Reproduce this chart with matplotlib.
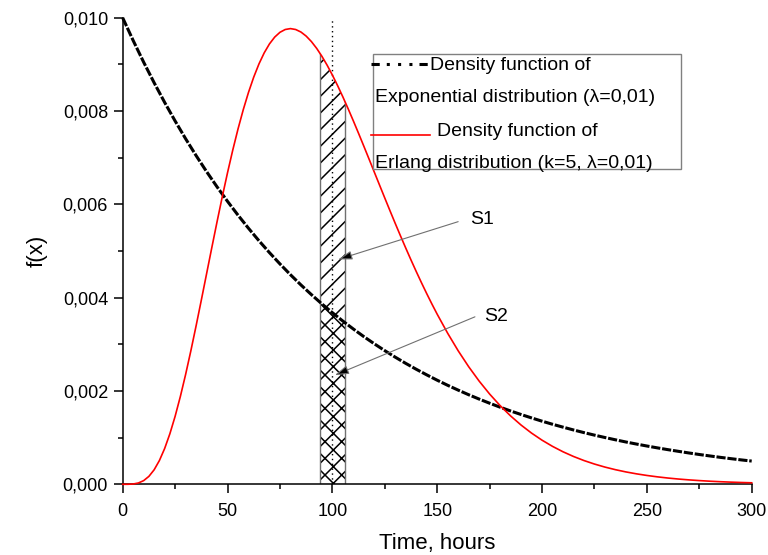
import matplotlib
matplotlib.use("Agg")
import matplotlib.pyplot as plt
from matplotlib.patches import Rectangle
from matplotlib.lines import Line2D
import numpy as np

plt.rcParams['font.family'] = ['Liberation Sans', 'DejaVu Sans']

# ---------------- data ----------------
exp_hours = list(range(0, 301, 5))
exp_density = [
    0.010000, 0.009512, 0.009048, 0.008607, 0.008187, 0.007788, 0.007408, 0.007047,
    0.006703, 0.006376, 0.006065, 0.005769, 0.005488, 0.005220, 0.004966, 0.004724,
    0.004493, 0.004274, 0.004066, 0.003867, 0.003679, 0.003499, 0.003329, 0.003166,
    0.003012, 0.002865, 0.002725, 0.002592, 0.002466, 0.002346, 0.002231, 0.002122,
    0.002019, 0.001920, 0.001827, 0.001738, 0.001653, 0.001572, 0.001496, 0.001423,
    0.001353, 0.001287, 0.001225, 0.001165, 0.001108, 0.001054, 0.001003, 0.000954,
    0.000907, 0.000863, 0.000821, 0.000781, 0.000743, 0.000707, 0.000672, 0.000639,
    0.000608, 0.000578, 0.000550, 0.000523, 0.000498]

erlang_hours = [
    0, 2.5, 5, 7.5, 10, 12.5, 15, 17.5, 20, 22.5, 25, 27.5, 30, 32.5, 35, 37.5,
    40, 42.5, 45, 47.5, 50, 52.5, 55, 57.5, 60, 62.5, 65, 67.5, 70, 72.5, 75, 77.5,
    80, 82.5, 85, 87.5, 90, 92.5, 95, 97.5, 100, 102.5, 105, 107.5, 110, 112.5, 115,
    117.5, 120, 122.5, 125, 127.5, 130, 132.5, 135, 137.5, 140, 142.5, 145, 147.5,
    150, 155, 160, 165, 170, 175, 180, 185, 190, 195, 200, 205, 210, 215, 220, 225,
    230, 235, 240, 245, 250, 255, 260, 265, 270, 275, 280, 285, 290, 295, 300]
erlang_density = [
    0.0000000, 0.0000005, 0.0000063, 0.0000283, 0.0000790, 0.0001702, 0.0003114, 0.0005091,
    0.0007664, 0.0010834, 0.0014572, 0.0018828, 0.0023533, 0.0028605, 0.0033954, 0.0039488,
    0.0045112, 0.0050736, 0.0056276, 0.0061654, 0.0066801, 0.0071656, 0.0076170, 0.0080300,
    0.0084016, 0.0087295, 0.0090122, 0.0092493, 0.0094405, 0.0095867, 0.0096891, 0.0097491,
    0.0097685, 0.0097490, 0.0096952, 0.0096079, 0.0094904, 0.0093452, 0.0091756, 0.0089840,
    0.0087733, 0.0085462, 0.0083052, 0.0080526, 0.0077910, 0.0075223, 0.0072484, 0.0069713,
    0.0066928, 0.0064143, 0.0061369, 0.0058620, 0.0055910, 0.0053245, 0.0050640, 0.0048093,
    0.0045613, 0.0043207, 0.0040876, 0.0038626,
    0.0036458, 0.0032373, 0.0028626, 0.0025214, 0.0022128, 0.0019351, 0.0016869, 0.0014659,
    0.0012702, 0.0010975, 0.0009458, 0.0008131, 0.0006973, 0.0005967, 0.0005094, 0.0004341,
    0.0003691, 0.0003133, 0.0002654, 0.0002245, 0.0001896, 0.0001598, 0.0001344, 0.0001130,
    0.0000949, 0.0000795, 0.0000665, 0.0000556, 0.0000464, 0.0000387, 0.0000323]

x_ticks = [0, 50, 100, 150, 200, 250, 300]
x_tick_labels = ['0', '50', '100', '150', '200', '250', '300']
y_ticks = [0.000, 0.002, 0.004, 0.006, 0.008, 0.010]
y_tick_labels = ['0,000', '0,002', '0,004', '0,006', '0,008', '0,010']

marker_x = 100
band_left, band_right = 94, 106

s_labels = ['S1', 'S2']
s_text_pos = [(165.5, 0.00567), (172.5, 0.00359)]
s_tail_pos = [(160.0, 0.00563), (168.0, 0.00359)]
s_head_pos = [(102.8, 0.00482), (101.2, 0.00234)]

legend_lines = ['Density function of', 'Exponential distribution (\u03bb=0,01)',
                'Density function of', 'Erlang distribution (k=5, \u03bb=0,01)']

# ---------------- figure ----------------
W, H = 768, 555
fig = plt.figure(figsize=(W / 100, H / 100), dpi=100)
ax = fig.add_axes([122.7 / W, 1 - 484.3 / H, (751.7 - 122.7) / W, (484.3 - 17.8) / H])

xe = np.array(exp_hours, dtype=float)
ye = np.array(exp_density)
xr = np.array(erlang_hours, dtype=float)
yr = np.array(erlang_density)

band_clip = Rectangle((band_left, 0), band_right - band_left, 0.0105,
                      transform=ax.transData)

plt.rcParams['hatch.linewidth'] = 1.1
upper = ax.fill_between(xr, 0, yr, facecolor='none', edgecolor='black',
                        linewidth=0, hatch='//', zorder=1)
upper.set_clip_path(band_clip)
lower = ax.fill_between(xe, 0, ye, facecolor='white', edgecolor='black',
                        linewidth=0, hatch='xx', zorder=1.5)
lower.set_clip_path(band_clip)

under = ax.fill_between(xr, 0, yr, facecolor='none', edgecolor='none', linewidth=0)
outline = Rectangle((band_left, 0), band_right - band_left, 0.0105, fill=False,
                    edgecolor='#707070', linewidth=1.0, zorder=2)
ax.add_patch(outline)
outline.set_clip_path(under.get_paths()[0], ax.transData)

ax.axvline(marker_x, color='black', linestyle=(0, (1, 2.5)), linewidth=1.0, zorder=2)

ax.plot(xr, yr, color='red', linewidth=1.2, zorder=4, clip_on=False)
ax.plot(xe, ye, color='black', linewidth=2.2, linestyle=(0, (3, 0.6)), zorder=3,
        clip_on=False)

for lab, tp, tl, hd in zip(s_labels, s_text_pos, s_tail_pos, s_head_pos):
    ax.text(tp[0], tp[1], lab, fontsize=14, ha='left', va='center')
    ax.annotate('', xy=hd, xytext=tl,
                arrowprops=dict(arrowstyle='-|>,head_length=0.7,head_width=0.22',
                                edgecolor='#707070', facecolor='black', lw=0.8,
                                shrinkA=0, shrinkB=0, mutation_scale=12), zorder=5)

ax.set_xlim(0, 300)
ax.set_ylim(0, 0.010)
ax.set_xticks(x_ticks)
ax.set_xticklabels(x_tick_labels)
ax.set_yticks(y_ticks)
ax.set_yticklabels(y_tick_labels)
ax.set_xticks([25, 75, 125, 175, 225, 275], minor=True)
ax.set_yticks([0.001, 0.003, 0.005, 0.007, 0.009], minor=True)
ax.tick_params(which='major', direction='out', length=6.5, width=1.1, labelsize=13)
ax.tick_params(axis='x', which='major', pad=7)
ax.tick_params(axis='y', which='major', pad=4)
ax.tick_params(which='minor', direction='out', length=3.6, width=1.1)
for s in ['top', 'right']:
    ax.spines[s].set_visible(False)
for s in ['left', 'bottom']:
    ax.spines[s].set_linewidth(1.1)
ax.set_xlabel('Time, hours', fontsize=16, labelpad=9)
ax.set_ylabel('f(x)', fontsize=16, labelpad=11)

# ---------------- legend (built by hand) ----------------
def fx(px):
    return px / W

def fy(py):
    return 1 - py / H

fig.add_artist(Rectangle((fx(373), fy(169)), (681 - 373) / W, (169 - 54) / H,
                         transform=fig.transFigure, fill=False,
                         edgecolor='#808080', linewidth=1.0))
fig.add_artist(Line2D([fx(371), fx(428)], [fy(64), fy(64)], transform=fig.transFigure,
                      color='black', linewidth=2.2,
                      linestyle=(0, (2.7, 2.3, 1, 2.7, 1, 2.7, 1, 2.3))))
fig.add_artist(Line2D([fx(371), fx(430)], [fy(135), fy(135)], transform=fig.transFigure,
                      color='red', linewidth=1.2))
fig.text(fx(430), fy(66), legend_lines[0], fontsize=14, ha='left', va='center')
fig.text(fx(375), fy(98), legend_lines[1], fontsize=14, ha='left', va='center')
fig.text(fx(437), fy(132), legend_lines[2], fontsize=14, ha='left', va='center')
fig.text(fx(375), fy(163), legend_lines[3], fontsize=14, ha='left', va='center')

fig.savefig('out.png', dpi=100)
